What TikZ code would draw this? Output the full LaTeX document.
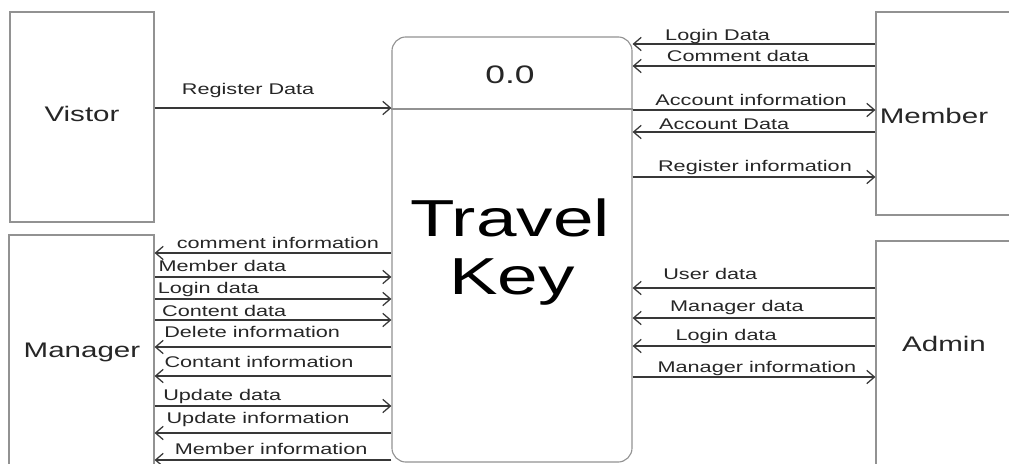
\documentclass[tikz,border=0pt]{standalone}
\usepackage{fontspec}
\setmainfont{Liberation Sans}
\usepackage{xcolor}
\usetikzlibrary{arrows.meta,positioning}
\definecolor{boxgray}{HTML}{929292}
\definecolor{linegray}{HTML}{383838}
\definecolor{txtgray}{HTML}{262626}
\begin{document}
\begin{tikzpicture}[x=0.025cm,y=-0.025cm,>={Straight Barb[length=5.5pt,width=9.5pt]},
box/.style={draw=boxgray,line width=0.8pt,inner sep=0pt},
ent/.style={font=\fontsize{15}{18}\selectfont,text=txtgray,xscale=1.4},
big/.style={font=\fontsize{37}{40}\selectfont,xscale=1.4,anchor=base},
lbl/.style={font=\fontsize{11}{13}\selectfont,text=txtgray,xscale=1.4,anchor=base,inner sep=0pt},
flow/.style={->,draw=linegray,line width=0.9pt}]
\useasboundingbox (0,0) rectangle (1009,464);
\clip (0,0) rectangle (1009,464);
\node[box,minimum width=3.6cm,minimum height=5.25cm] (vistor) at (82,117) {};
\node[box,minimum width=3.625cm,minimum height=6.125cm] (manager) at (81.5,357.5) {};
\node[box,minimum width=3.85cm,minimum height=5.075cm] (member) at (953,113.5) {};
\node[box,minimum width=3.85cm,minimum height=5.975cm] (admin) at (953,360.5) {};
\node[box,rounded corners=10pt,minimum width=6cm,minimum height=10.625cm] (proc) at (512,249.5) {};
\node[ent] (vistortext) at (82,113.5) {Vistor};
\node[ent] (managertext) at (82,352) {Manager};
\node[ent] (membertext) at (934,115.5) {Member};
\node[ent] (admintext) at (944,344) {Admin};
\draw[box] (proc.west |- 0,109) -- (proc.east |- 0,109);
\node[ent,font=\fontsize{18}{20}\selectfont,text=black!85] (procid) at (510,75) {0.0};
\node[big] (travel) at (510,237) {Travel};
\node[big] (key) at (512,295) {Key};
\draw[flow] (vistor.east |- 0,108) -- (proc.west |- 0,108) node[lbl,pos=.395,yshift=9.6pt]{Register Data};
\draw[flow] (member.west |- 0,44) -- (proc.east |- 0,44) node[lbl,pos=.65,yshift=2.5pt]{Login Data};
\draw[flow] (member.west |- 0,66) -- (proc.east |- 0,66) node[lbl,pos=.566,yshift=3.2pt]{Comment data};
\draw[flow] (proc.east |- 0,110) -- (member.west |- 0,110) node[lbl,pos=.488,yshift=3.2pt]{Account information};
\draw[flow] (member.west |- 0,132) -- (proc.east |- 0,132) node[lbl,pos=.623,yshift=1.8pt]{Account Data};
\draw[flow] (proc.east |- 0,177) -- (member.west |- 0,177) node[lbl,pos=.504,yshift=3.9pt]{Register information};
\draw[flow] (admin.west |- 0,288) -- (proc.east |- 0,288) node[lbl,pos=.68,yshift=6pt]{User data};
\draw[flow] (admin.west |- 0,318) -- (proc.east |- 0,318) node[lbl,pos=.57,yshift=4.6pt]{Manager data};
\draw[flow] (admin.west |- 0,346) -- (proc.east |- 0,346) node[lbl,pos=.615,yshift=3.9pt]{Login data};
\draw[flow] (proc.east |- 0,377) -- (admin.west |- 0,377) node[lbl,pos=.512,yshift=3.2pt]{Manager information};
\draw[flow] (proc.west |- 0,253) -- (manager.east |- 0,253) node[lbl,pos=.479,yshift=3.2pt]{comment information};
\draw[flow] (manager.east |- 0,277) -- (proc.west |- 0,277) node[lbl,pos=.286,yshift=3.9pt]{Member data};
\draw[flow] (manager.east |- 0,299) -- (proc.west |- 0,299) node[lbl,pos=.227,yshift=3.9pt]{Login data};
\draw[flow] (manager.east |- 0,320) -- (proc.west |- 0,320) node[lbl,pos=.294,yshift=2.5pt]{Content data};
\draw[flow] (proc.west |- 0,347) -- (manager.east |- 0,347) node[lbl,pos=.588,yshift=6.8pt]{Delete information};
\draw[flow] (proc.west |- 0,376) -- (manager.east |- 0,376) node[lbl,pos=.559,yshift=6pt]{Contant information};
\draw[flow] (manager.east |- 0,406) -- (proc.west |- 0,406) node[lbl,pos=.286,yshift=3.9pt]{Update data};
\draw[flow] (proc.west |- 0,433) -- (manager.east |- 0,433) node[lbl,pos=.563,yshift=6.8pt]{Update information};
\draw[flow] (proc.west |- 0,460) -- (manager.east |- 0,460) node[lbl,pos=.508,yshift=3.9pt]{Member information};
\end{tikzpicture}
\end{document}
